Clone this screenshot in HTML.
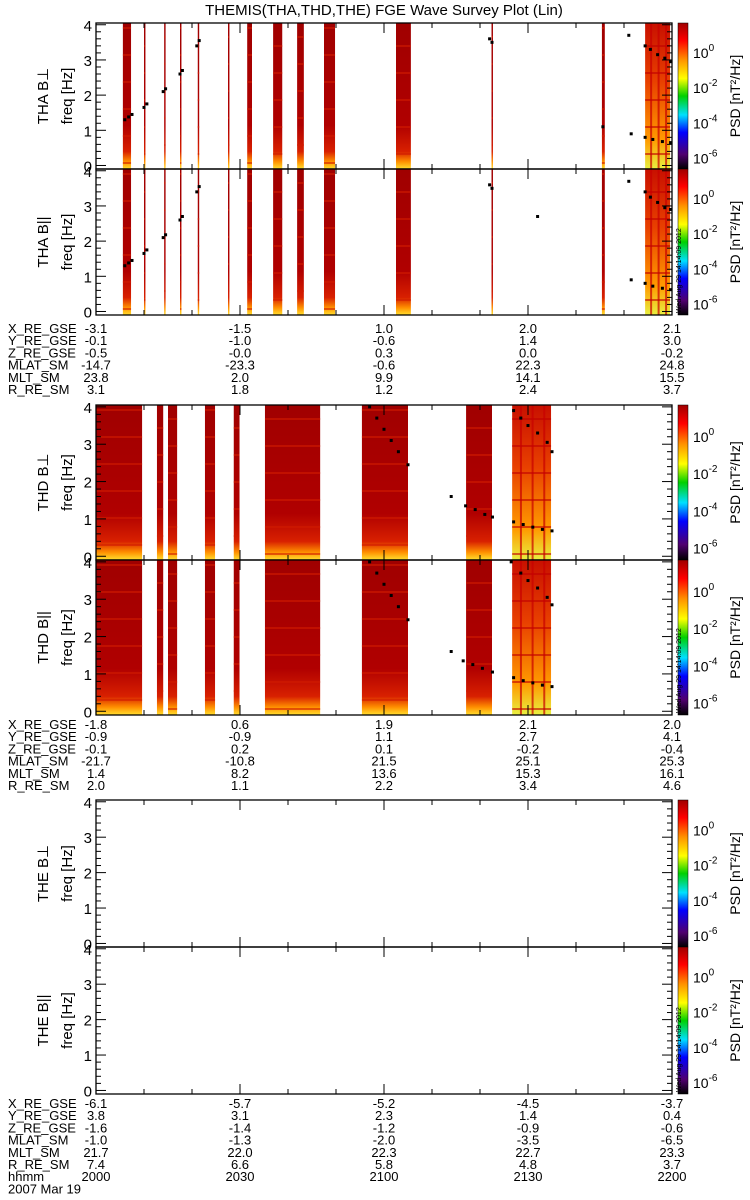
<!DOCTYPE html>
<html><head><meta charset="utf-8">
<style>
body{margin:0;background:#fff;}
svg{display:block;font-family:"Liberation Sans",sans-serif;}
</style></head>
<body>
<svg id="chart" width="750" height="1200" viewBox="0 0 750 1200" xmlns="http://www.w3.org/2000/svg">
<defs>
<linearGradient id="band" x1="0" y1="0" x2="0" y2="1">
<stop offset="0" stop-color="#a00000"/><stop offset="0.7" stop-color="#b00000"/>
<stop offset="0.88" stop-color="#d82000"/><stop offset="0.95" stop-color="#ff9000"/><stop offset="1" stop-color="#ffe030"/>
</linearGradient>
<linearGradient id="bandHot" x1="0" y1="0" x2="0" y2="1">
<stop offset="0" stop-color="#c81000"/><stop offset="0.4" stop-color="#e84000"/>
<stop offset="0.8" stop-color="#ff9a00"/><stop offset="1" stop-color="#e8f040"/>
</linearGradient>
<linearGradient id="cbar" x1="0" y1="1" x2="0" y2="0">
<stop offset="0" stop-color="#000000"/><stop offset="0.1" stop-color="#500070"/>
<stop offset="0.25" stop-color="#0000ff"/><stop offset="0.37" stop-color="#00e0ff"/>
<stop offset="0.5" stop-color="#00d000"/><stop offset="0.62" stop-color="#ffff00"/>
<stop offset="0.75" stop-color="#ff9000"/><stop offset="0.88" stop-color="#ff0000"/>
<stop offset="1" stop-color="#a00000"/>
</linearGradient>
</defs>
<text x="384" y="15" font-size="15" text-anchor="middle">THEMIS(THA,THD,THE) FGE Wave Survey Plot (Lin)</text>
<g id="g"></g>
</svg>
<script>
// ---- data (minutes after 20:00 UT, frequency Hz) ----
const thaBands = [[5.6,7.3],[10.0,10.3],[14.2,14.5],[17.5,17.8],[21.2,21.5],[27.5,27.8],[31.5,32.5],[36.9,38.8],[41.9,43.3],[47.5,49.8],[62.5,65.6],[82.4,82.7],[105.4,106.0],[114.4,119.6]];
const thaHot = [false,false,false,false,false,false,false,false,false,false,false,false,false,true];
const thaPtsPerp = [[6,1.3],[6.8,1.38],[7.5,1.45],[10,1.65],[10.6,1.75],[14,2.1],[14.5,2.18],[17.5,2.6],[18,2.7],[21,3.4],[21.5,3.55],[82,3.6],[82.5,3.5],[105.6,1.1],[111,3.7],[111.5,0.9],[114.4,3.4],[115.5,3.3],[117,3.15],[118.5,3.05],[119.7,2.95],[114.4,0.8],[116,0.74],[118,0.68],[119.7,0.65]];
const thaPtsPar = [[6,1.3],[6.8,1.38],[7.5,1.45],[10,1.65],[10.6,1.75],[14,2.1],[14.5,2.18],[17.5,2.6],[18,2.7],[21,3.4],[21.5,3.55],[82,3.6],[82.5,3.5],[92,2.7],[111,3.7],[111.5,0.9],[114.4,3.4],[115.5,3.25],[117,3.1],[118.5,2.95],[119.7,2.9],[114.4,0.8],[116,0.72],[118,0.66],[119.7,0.62]];
const thdBands = [[0,9.6],[12.7,14.0],[15.0,16.9],[22.7,24.8],[28.7,29.9],[35.2,46.7],[55.4,65.0],[77.1,82.5],[86.7,94.8]];
const thdHot = [false,false,false,false,false,false,false,false,true];
const thdPtsPerp = [[57,4.0],[58.5,3.7],[60,3.4],[61.5,3.1],[63,2.8],[65,2.45],[74,1.6],[77,1.35],[79,1.25],[81,1.12],[82.6,1.05],[87,3.9],[88.5,3.7],[90,3.5],[92,3.3],[94,3.05],[95,2.8],[87,0.92],[89,0.85],[91,0.78],[93,0.72],[95,0.68]];
const thdPtsPar = [[57,4.0],[58.5,3.7],[60,3.4],[61.5,3.1],[63,2.8],[65,2.45],[74,1.6],[76.5,1.35],[78.5,1.25],[80.5,1.15],[82.6,1.05],[86.5,4.0],[88.5,3.7],[90,3.5],[92,3.3],[94,3.05],[95,2.85],[87,0.9],[89,0.82],[91,0.76],[93,0.7],[95,0.66]];
const ephLabels = ["X_RE_GSE","Y_RE_GSE","Z_RE_GSE","MLAT_SM","MLT_SM","R_RE_SM"];
const thaEph = [["-3.1","-1.5","1.0","2.0","2.1"],["-0.1","-1.0","-0.6","1.4","3.0"],["-0.5","-0.0","0.3","0.0","-0.2"],["-14.7","-23.3","-0.6","22.3","24.8"],["23.8","2.0","9.9","14.1","15.5"],["3.1","1.8","1.2","2.4","3.7"]];
const thdEph = [["-1.8","0.6","1.9","2.1","2.0"],["-0.9","-0.9","1.1","2.7","4.1"],["-0.1","0.2","0.1","-0.2","-0.4"],["-21.7","-10.8","21.5","25.1","25.3"],["1.4","8.2","13.6","15.3","16.1"],["2.0","1.1","2.2","3.4","4.6"]];
const theEph = [["-6.1","-5.7","-5.2","-4.5","-3.7"],["3.8","3.1","2.3","1.4","0.4"],["-1.6","-1.4","-1.2","-0.9","-0.6"],["-1.0","-1.3","-2.0","-3.5","-6.5"],["21.7","22.0","22.3","22.7","23.3"],["7.4","6.6","5.8","4.8","3.7"],["2000","2030","2100","2130","2200"]];
const yTicks = [0,1,2,3,4];
const cbTicks = ["0","-2","-4","-6"];

const NS="http://www.w3.org/2000/svg", G=document.getElementById('g');
const X0=96, X1=672, TMAX=120, FMIN=-0.1, FMAX=4.05;
const xs = t => X0 + (t/TMAX)*(X1-X0);
function el(tag, attrs, parent){const e=document.createElementNS(NS,tag);for(const k in attrs)e.setAttribute(k,attrs[k]);(parent||G).appendChild(e);return e;}
function txt(s,x,y,attrs,name){const e=el('text',Object.assign({x:x,y:y,'font-size':13},attrs||{}));e.textContent=s;
 
 
 return e;}

function panel(top,bot,sc,comp,bands,hot,pts,stamp){
 const ys = f => bot - (f-FMIN)/(FMAX-FMIN)*(bot-top);
 const g=el('g',{});
 
 
 bands.forEach((b,i)=>{
  const w=Math.max(1.2,xs(b[1])-xs(b[0]));
  const r=el('rect',{x:xs(b[0]),y:top,width:w,height:bot-top,fill:hot[i]?'url(#bandHot)':'url(#band)'},g);
  
  
  for(let k=0;k*9<bot-top-8;k++){ if((k*7+i)%3===0){el('rect',{x:xs(b[0]),y:top+k*9+4,width:w,height:2,fill:hot[i]?'#c00000':'#d01a00',opacity:0.6},g);} }
  if(hot[i]&&w>10){for(let q=0.2;q<1;q+=0.3){el('rect',{x:xs(b[0])+w*q,y:top,width:2,height:bot-top,fill:'#c80000',opacity:0.7},g);}}
 });
 pts.forEach(p=>{
  const c=el('rect',{x:xs(p[0])-1.5,y:ys(p[1])-1.5,width:3,height:3,fill:'#000'},g);
  
  
 });
 el('rect',{x:X0,y:top,width:X1-X0,height:bot-top,fill:'none',stroke:'#000','stroke-width':1.3},g);
 for(let f=0;f<=4.001;f+=0.2){const major=Math.abs(f-Math.round(f))<1e-6;const L=major?10:5;const y=ys(f);
  el('line',{x1:X0,x2:X0+L,y1:y,y2:y,stroke:'#000'},g);el('line',{x1:X1-L,x2:X1,y1:y,y2:y,stroke:'#000'},g);}
 for(let t=10;t<TMAX;t+=10){const L=(t%30===0)?10:5;el('line',{x1:xs(t),x2:xs(t),y1:top,y2:top+L,stroke:'#000'},g);el('line',{x1:xs(t),x2:xs(t),y1:bot,y2:bot-L,stroke:'#000'},g);}
 yTicks.forEach(v=>txt(String(v),X0-4,ys(v)+6,{'text-anchor':'end','font-size':15},'y-tick-label'));
 const mid=(top+bot)/2;
 txt(sc+' B'+(comp==='perp'?'⊥':'||'),48,mid,{'text-anchor':'middle','font-size':15,transform:'rotate(-90 48 '+mid+')'},'panel-title');
 txt('freq [Hz]',72,mid,{'text-anchor':'middle','font-size':15,transform:'rotate(-90 72 '+mid+')'},'y-axis-title');
 const cb=el('rect',{x:678,y:top,width:10,height:bot-top,fill:'url(#cbar)',stroke:'#000','stroke-width':0.5},g);
 
 
 const h=bot-top;
 cbTicks.forEach((e,i)=>{const y=top+h*(0.2+i*0.24)+6;
  const t=txt('10',693,y,{'font-size':14},'colorbar-tick-label');
  const s=el('tspan',{dy:-7,'font-size':10},t);s.textContent=e;});
 txt('PSD [nT²/Hz]',740,mid,{'text-anchor':'middle','font-size':14,transform:'rotate(-90 740 '+mid+')'},'colorbar-title');
 if(stamp){txt('Wed Aug 29 14:14:09 2012',681,bot-2,{'font-size':7,transform:'rotate(-90 681 '+(bot-2)+')'},'timestamp');}
}
function eph(y0,labels,vals){
 labels.forEach((l,r)=>{const y=y0+r*12.2;txt(l,8,y,{'font-size':13},'ephemeris-label');
  vals[r].forEach((v,c)=>txt(v,xs(c*30),y,{'text-anchor':'middle','font-size':13},'ephemeris-value'));});
}
panel(23,169,'THA','perp',thaBands,thaHot,thaPtsPerp,false);
panel(169,315,'THA','par',thaBands,thaHot,thaPtsPar,true);
eph(333,ephLabels,thaEph);
panel(405,560,'THD','perp',thdBands,thdHot,thdPtsPerp,false);
panel(560,715,'THD','par',thdBands,thdHot,thdPtsPar,true);
eph(729,ephLabels,thdEph);
panel(800,947,'THE','perp',[],[],[],false);
panel(947,1094,'THE','par',[],[],[],true);
eph(1108,ephLabels.concat(['hhmm']),theEph);
txt('2007 Mar 19',8,1108+7*12.2,{'font-size':13},'date-label');
</script>
</body></html>
